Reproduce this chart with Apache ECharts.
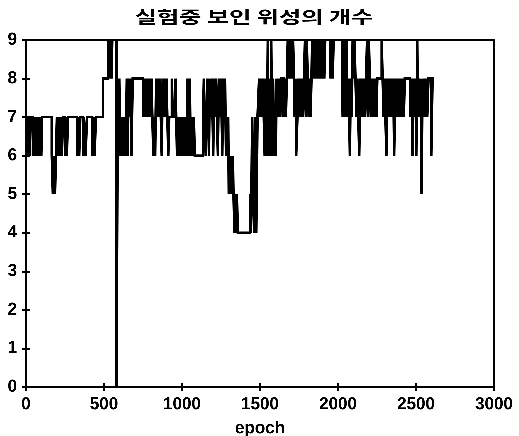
<!DOCTYPE html>
<html>
<head>
<meta charset="utf-8">
<script src="https://cdn.jsdelivr.net/npm/echarts@6/dist/echarts.min.js"></script>
<style>
html,body{margin:0;padding:0;background:#fff;}
#chart{width:519px;height:436px;}
</style>
</head>
<body>
<div id="chart"></div>
<script>
// Title and axis texts
const titleText = '실험중 보인 위성의 개수';
const xName = 'epoch';
const xTicks = [0, 500, 1000, 1500, 2000, 2500, 3000];
const yTicks = [0, 1, 2, 3, 4, 5, 6, 7, 8, 9];

// Number of visible satellites: [epoch, count] change points (count held until next point)
const part1 = [
[0,7],[10,6],[16,7],[24,6],[30,7],
[44,6],[52,7],[58,6],[66,7],[72,6],[80,7],[86,6],[94,7],[98,6],[103,7],
[165,6],[172,5],[180,6],[186,5],[192,6],[198,7],[204,6],[212,7],[218,6],[226,7],[230,6],[237,7],
[250,6],[256,7],[262,6],[269,7],
[327,6],[334,7],[341,6],[348,7],
[365,6],[372,7],[382,6],[391,7],
[424,6],[432,7],[440,6],[448,7],
[494,8],[526,9],[532,8],[538,9],[548,8],[553,9],[580,0]
];
const part2 = [
[588,7],[592,6],[598,8],[604,6],[610,7],[616,6],[622,7],[628,6],[634,7],[640,6],[646,8],[652,6],[658,8],[664,7],[670,8],[676,6],[684,8],
[750,7],[756,8],[762,7],[768,8],[774,7],[780,8],[786,7],[792,8],[798,7],[804,8],[810,7],[816,6],[822,7],[828,6],[834,8],
[840,7],[846,8],[852,7],[858,8],[864,7],[870,6],[876,8],[882,7],[888,8],[894,7],[900,8],[906,7],[912,6],[918,7],[935,8],[941,7],[958,8],[963,7],
[968,6],[974,7],[980,6],[986,7],[992,6],[998,7],[1004,6],[1010,7],[1016,6],[1022,7],[1028,6],[1036,8],[1042,6],[1050,8],[1056,6],[1062,7],[1068,6],[1076,7],[1082,6]
];
const part3 = [
[1135,7],[1140,8],[1146,7],[1152,6],[1158,7],[1163,8],[1168,7],[1173,6],[1178,8],[1184,7],[1190,8],[1196,7],[1200,6],[1206,8],[1212,7],[1218,8],[1224,7],[1230,6],[1236,8],[1242,7],[1248,8],[1254,7],[1258,6],[1264,8],[1270,7],[1276,8],[1282,6],[1288,7],
[1292,6],[1296,7],[1300,5],[1306,6],[1310,5],[1316,6],[1320,5],[1326,6],[1330,5],[1336,4],[1342,5],[1348,4],[1352,5],[1358,4],
[1436,5],[1442,4],[1450,7],[1456,5],[1462,4],[1470,7],[1476,4],[1484,7],[1494,8],
[1500,7],[1506,8],[1512,7],[1518,8],[1524,7],[1530,6],[1536,8],[1540,6],[1546,7],[1550,9],[1556,6],[1562,8],[1566,6],[1572,9],[1578,6],[1584,8],[1590,6],[1596,7],[1602,6],[1606,8],
[1612,7],[1618,8],[1630,7],[1636,8],[1650,7],[1656,8],[1666,7],[1672,8],[1678,9],[1684,8],[1690,9],[1696,8],[1702,9],[1708,8],[1712,9]
];
const part4 = [
[1718,8],[1722,7],[1728,8],[1732,6],[1740,7],[1746,8],[1752,7],[1758,8],[1764,7],[1770,8],[1776,7],[1782,8],[1788,9],[1794,7],[1800,9],[1806,8],[1812,7],[1818,8],[1824,7],[1830,8],
[1834,9],[1840,8],[1846,9],[1852,8],[1858,9],[1864,8],[1870,9],[1876,8],[1882,9],[1888,8],[1894,9],[1900,8],[1906,9],[1912,8],[1918,9],
[1952,8],[1958,9],[1966,8],[1972,9],
[2026,8],[2030,7],[2036,9],[2042,7],[2048,8],[2054,9],[2060,7],[2066,8],[2072,7],[2076,6],[2082,8],[2088,7],[2094,9],[2100,8],[2106,9],[2112,8],
[2118,7],[2124,8],[2130,7],[2136,6],[2144,8],[2150,7],[2156,8],[2162,7],[2168,8],[2174,7],[2180,8],[2186,9],[2192,7],[2198,9],[2204,8],[2210,7],[2216,8],[2222,7],[2228,8],[2234,7],[2240,8],[2246,7],[2252,8],
[2280,9],[2286,8],[2292,7],[2298,8],[2304,7],[2310,6],[2318,8],[2324,7],[2330,8],[2336,7],[2342,8],[2348,7],[2354,8],[2360,6],[2368,8],[2374,7],[2380,8],[2386,7],[2392,8],[2398,7],[2404,8],[2410,7],[2416,8],[2422,7],[2428,8],
[2462,7],[2468,8],[2474,7],[2478,6],[2484,8],[2490,7],[2496,8],[2502,6],[2508,9],[2512,7],[2518,8],[2524,7],[2530,8],[2536,5],[2542,8],
[2548,7],[2554,8],[2560,7],[2566,8],[2572,7],[2580,8],[2598,6],[2606,8],[2614,8]
];

const satData = part1.concat(part2, part3, part4);

const chart = echarts.init(document.getElementById('chart'), null, {renderer: 'canvas', devicePixelRatio: 3});
const lblFont = {fontFamily: '"Liberation Sans", Arial, sans-serif', fontWeight: 'bold', fontSize: 17, color: '#000'};
const xMin = xTicks[0], xMax = xTicks[xTicks.length - 1], xStep = xTicks[1] - xTicks[0];
const yMin = yTicks[0], yMax = yTicks[yTicks.length - 1], yStep = yTicks[1] - yTicks[0];
const plain = v => String(v);

chart.setOption({
  animation: false,
  backgroundColor: '#fff',
  grid: {left: 26, right: 25, top: 40, bottom: 49, show: true, borderColor: '#000', borderWidth: 2, backgroundColor: 'transparent', containLabel: false, outerBoundsMode: 'none'},
  graphic: [{
    type: 'text', x: 254, y: 17, scaleX: 1.42, scaleY: 1,
    style: {text: titleText, font: 'bold 17px "Noto Sans CJK KR"', fill: '#000', textAlign: 'center', textVerticalAlign: 'middle'}
  }],
  xAxis: [{
    type: 'value', min: xMin, max: xMax, interval: xStep, position: 'bottom',
    name: xName, nameLocation: 'middle', nameGap: 33,
    nameTextStyle: lblFont,
    axisLine: {show: true, lineStyle: {color: '#000', width: 2}},
    axisTick: {show: true, inside: true, length: 4, lineStyle: {color: '#000', width: 1.5}},
    axisLabel: Object.assign({margin: 9, formatter: plain}, lblFont),
    splitLine: {show: false}
  }, {
    type: 'value', min: xMin, max: xMax, interval: xStep, position: 'top',
    axisLine: {show: true, lineStyle: {color: '#000', width: 2}},
    axisTick: {show: true, inside: true, length: 4, lineStyle: {color: '#000', width: 1.5}},
    axisLabel: {show: false}, splitLine: {show: false}
  }],
  yAxis: [{
    type: 'value', min: yMin, max: yMax, interval: yStep, position: 'left',
    axisLine: {show: true, lineStyle: {color: '#000', width: 2}},
    axisTick: {show: true, inside: true, length: 4, lineStyle: {color: '#000', width: 1.5}},
    axisLabel: Object.assign({margin: 9, formatter: plain}, lblFont),
    splitLine: {show: false}
  }, {
    type: 'value', min: yMin, max: yMax, interval: yStep, position: 'right',
    axisLine: {show: true, lineStyle: {color: '#000', width: 2}},
    axisTick: {show: true, inside: true, length: 4, lineStyle: {color: '#000', width: 1.5}},
    axisLabel: {show: false}, splitLine: {show: false}
  }],
  series: [{
    type: 'line', step: 'end', xAxisIndex: 0, yAxisIndex: 0,
    data: satData, showSymbol: false, symbol: 'none',
    lineStyle: {color: '#000', width: 2.5, join: 'miter', cap: 'butt'},
    clip: true
  }]
});
</script>
</body>
</html>
